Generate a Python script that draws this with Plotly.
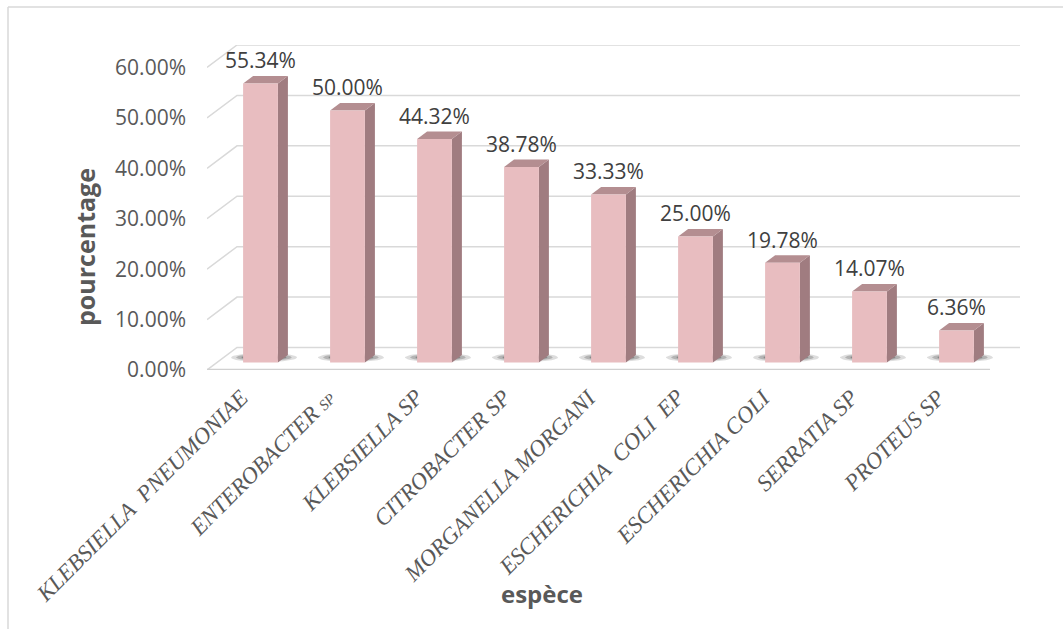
import numpy as np
import plotly.graph_objects as go

categories = ["KLEBSIELLA  PNEUMONIAE", "ENTEROBACTER SP", "KLEBSIELLA SP", "CITROBACTER SP",
              "MORGANELLA MORGANI", "ESCHERICHIA  COLI  EP", "ESCHERICHIA COLI", "SERRATIA SP", "PROTEUS SP"]
values = [55.34, 50.00, 44.32, 38.78, 33.33, 25.00, 19.78, 14.07, 6.36]
y_ticks = [0, 10, 20, 30, 40, 50, 60]
y_ticklabels = ["0.00%", "10.00%", "20.00%", "30.00%", "40.00%", "50.00%", "60.00%"]

# 3D pseudo-depth in data units
OX = 0.345   # horizontal depth offset (category units)
OY = 4.46    # vertical depth offset (percent units)
BW = 0.40    # bar front width
GRID = "#D9D9D9"
FRONT = "#E8BDC0"
TOP = "#B48E91"
SIDE = "#A07C80"

n = len(categories)
xmin, xmax = -0.5, n - 0.5

fig = go.Figure()

def poly(xs, ys, color, opacity=1.0):
    xs = list(xs); ys = list(ys)
    fig.add_trace(go.Scatter(x=xs + [xs[0]], y=ys + [ys[0]], mode="lines", fill="toself",
                             fillcolor=color, line=dict(width=0), opacity=opacity,
                             hoverinfo="skip", showlegend=False))

def line(xs, ys, color=GRID, width=1.5):
    fig.add_trace(go.Scatter(x=xs, y=ys, mode="lines", line=dict(color=color, width=width),
                             hoverinfo="skip", showlegend=False))

# back wall gridlines + side diagonals
for t in y_ticks:
    line([xmin, xmin + OX, xmax + OX], [t, t + OY, t + OY])
# floor front edge
line([xmin, xmax], [0, 0], color="#D0D0D0", width=2.5)

# soft shadows on the floor
theta = np.linspace(0, 2 * np.pi, 40)
for i, v in enumerate(values):
    cx = i + OX / 3 + 0.04
    cy = OY / 3 + 1.0
    for hw, hh, op in [(0.38, 0.9, 0.16), (0.32, 0.7, 0.24), (0.26, 0.5, 0.32), (0.2, 0.35, 0.38)]:
        poly(cx + hw * np.cos(theta), cy + hh * np.sin(theta), "#2E2E2E", op)

# bars
for i, v in enumerate(values):
    cx = i + OX / 3
    xl, xr = cx - BW / 2, cx + BW / 2
    y0 = OY / 3
    y1 = y0 + v
    dx, dy = OX / 3, OY / 3
    poly([xr, xr + dx, xr + dx, xr], [y0, y0 + dy, y1 + dy, y1], SIDE)
    poly([xl, xr, xr + dx, xl + dx], [y1, y1, y1 + dy, y1 + dy], TOP)
    poly([xl, xr, xr, xl], [y0, y0, y1, y1], FRONT)

annotations = []
for i, v in enumerate(values):
    annotations.append(dict(x=i + OX / 3, y=OY / 3 + v + 4.6, xref="x", yref="y",
                            text=f"{v:.2f}%", showarrow=False, yanchor="middle", xanchor="center",
                            font=dict(family="Open Sans", size=21, color="#404040")))

L, R, T, B = 207, 43, 45, 259
PW, PH = 1063 - L - R, 629 - T - B

def px(xp):
    return (xp - L) / PW

def py(yp):
    return (629 - B - yp) / PH

# category labels (italic serif, rotated)
for i, c in enumerate(categories):
    c2 = c.replace("  ", "\u00a0\u00a0")
    if c == "ENTEROBACTER SP":
        txt = "<i>ENTEROBACTER <span style='font-size:15px'>SP</span></i>"
    else:
        txt = f"<i>{c2}</i>"
    annotations.append(dict(x=i + 0.07, y=py(382), xref="x", yref="paper", text=txt, showarrow=False,
                            textangle=-45, xanchor="right", yanchor="top",
                            font=dict(family="Liberation Serif", size=23, color="#595959")))

annotations.append(dict(x=px(85), y=py(247), xref="paper", yref="paper", text="<b>pourcentage</b>",
                        textangle=-90, showarrow=False, xanchor="center", yanchor="middle",
                        font=dict(family="Open Sans", size=25, color="#595959")))
annotations.append(dict(x=px(542), y=py(593), xref="paper", yref="paper", text="<b>espèce</b>",
                        showarrow=False, xanchor="center", yanchor="middle",
                        font=dict(family="Open Sans", size=24, color="#595959")))

shapes = [
    dict(type="line", xref="paper", yref="paper", x0=px(8), x1=px(8), y0=py(7), y1=py(640),
         line=dict(color=GRID, width=1.5)),
    dict(type="line", xref="paper", yref="paper", x0=px(8), x1=px(1070), y0=py(7), y1=py(7),
         line=dict(color=GRID, width=1.5)),
]

fig.update_layout(
    width=1063, height=629,
    margin=dict(l=L, r=R, t=T, b=B, pad=0),
    paper_bgcolor="white", plot_bgcolor="white",
    showlegend=False,
    annotations=annotations,
    shapes=shapes,
    xaxis=dict(range=[xmin, xmax + OX], showticklabels=False, showgrid=False, zeroline=False,
               showline=False, ticks="", fixedrange=True),
    yaxis=dict(range=[0, 60 + OY], tickmode="array", tickvals=y_ticks, ticktext=y_ticklabels,
               showgrid=False, zeroline=False, showline=False, ticks="", ticklabelstandoff=20,
               tickfont=dict(family="Open Sans", size=21, color="#595959"), fixedrange=True),
)

fig.write_html("out.html", config={"displayModeBar": False})
